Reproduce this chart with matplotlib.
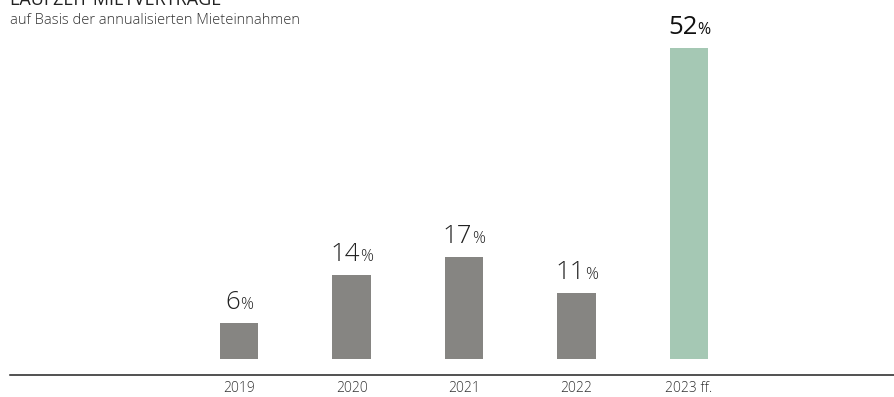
import matplotlib
matplotlib.use("Agg")
import matplotlib.pyplot as plt
from matplotlib.offsetbox import TextArea, HPacker, AnnotationBbox

plt.rcParams['font.family'] = ['Open Sans', 'DejaVu Sans']

years = ['2019', '2020', '2021', '2022', '2023 ff.']
shares = [6, 14, 17, 11, 52]
bar_colors = ['#868582', '#868582', '#868582', '#868582', '#a5c8b4']

title = 'LAUFZEIT MIETVERTRÄGE'
subtitle = 'auf Basis der annualisierten Mieteinnahmen'

fig = plt.figure(figsize=(8.95, 3.97), dpi=100)
ax = fig.add_axes([10 / 895, 22 / 397, 885 / 895, 375 / 397])

x = list(range(len(years)))
ax.bar(x, shares, width=0.34, color=bar_colors, zorder=2)

ax.set_xlim(-2.036, 5.83)
ax.set_ylim(-2.68, 60)

for s in ['top', 'right', 'left']:
    ax.spines[s].set_visible(False)
ax.spines['bottom'].set_color('#222222')
ax.spines['bottom'].set_linewidth(1.1)
ax.set_yticks([])
ax.set_xticks(x)
ax.set_xticklabels(years, fontsize=10, color='#333333', fontweight='light')
ax.tick_params(axis='x', length=0, pad=4)

for i, v in enumerate(shares):
    last = i == len(shares) - 1
    col = '#111111' if last else '#222222'
    w = 'normal' if last else 'light'
    num = TextArea(str(v), textprops=dict(fontsize=18.5, color=col, fontweight=w))
    pct = TextArea('%', textprops=dict(fontsize=11.5, color=col, fontweight=w))
    box = HPacker(children=[num, pct], align='baseline', pad=0, sep=0)
    ab = AnnotationBbox(box, (i, v), xybox=(0, 6), xycoords='data',
                        boxcoords='offset points', box_alignment=(0.5, 0),
                        frameon=False, pad=0)
    ax.add_artist(ab)

fig.text(10 / 895, 1 - 5 / 397, title, fontsize=13, color='#222222',
         ha='left', va='baseline')
fig.text(10 / 895, 1 - 24 / 397, subtitle, fontsize=10.5, color='#333333',
         ha='left', va='baseline', fontweight='light')

fig.savefig('out.png', dpi=100)
